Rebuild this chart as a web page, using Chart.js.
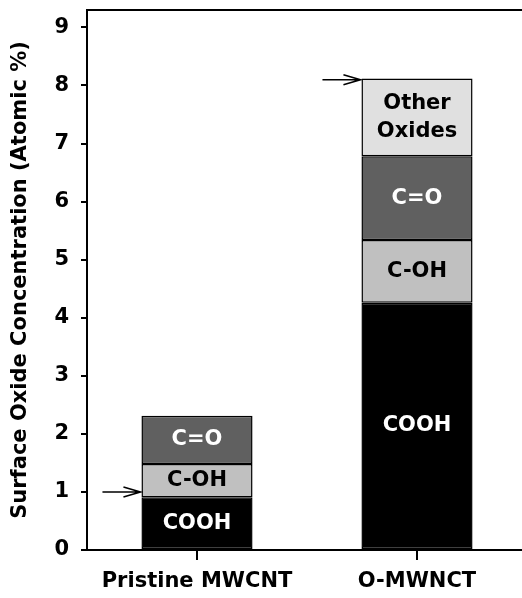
<!DOCTYPE html>
<html>
<head>
<meta charset="utf-8">
<script src="https://cdn.jsdelivr.net/npm/chart.js@4/dist/chart.umd.min.js"></script>
<style>
html,body{margin:0;padding:0;background:#fff;overflow:hidden;}
#wrap{width:522px;height:598px;overflow:hidden;}
canvas{display:block;}
</style>
</head>
<body>
<div id="wrap"><canvas id="c" width="532" height="598" style="width:532px;height:598px"></canvas></div>
<script>
// Data
const categories = ['Pristine MWCNT', 'O-MWNCT'];
const seriesNames = ['COOH', 'C-OH', 'C=O', 'Other Oxides'];
const cooh = [0.91, 4.26];
const coh = [0.57, 1.08];
const cdo = [0.83, 1.44];
const other = [0, 1.34];
const yTicks = [0, 1, 2, 3, 4, 5, 6, 7, 8, 9];
const arrowValues = [1.0, 8.1];
const yTitle = 'Surface Oxide Concentration (Atomic %)';

const FONT = '"DejaVu Sans", Verdana, sans-serif';
const FS = 21;
const fills = ['#000000', '#c0c0c0', '#606060', '#e0e0e0'];
const labelColors = ['#ffffff', '#000000', '#ffffff', '#000000'];
const seriesValues = [cooh, coh, cdo, other];

const datasets = seriesValues.map((vals, i) => ({
  label: seriesNames[i],
  data: vals,
  backgroundColor: fills[i],
  borderColor: '#000000',
  borderWidth: 1.5,
  borderSkipped: false,
  categoryPercentage: 1.0,
  barPercentage: 0.505
}));

const overlay = {
  id: 'overlay',
  afterDatasetsDraw(chart) {
    const ctx = chart.ctx;
    const ca = chart.chartArea;
    const ys = chart.scales.y;
    ctx.save();
    // top frame line
    ctx.strokeStyle = '#000';
    ctx.lineWidth = 2;
    ctx.beginPath();
    ctx.moveTo(ca.left - 1, ca.top);
    ctx.lineTo(ca.right, ca.top);
    ctx.stroke();
    // segment labels
    ctx.font = 'bold ' + FS + 'px ' + FONT;
    ctx.textAlign = 'center';
    ctx.textBaseline = 'middle';
    chart.data.datasets.forEach((ds, di) => {
      const meta = chart.getDatasetMeta(di);
      meta.data.forEach((el, j) => {
        if (!ds.data[j]) return;
        const cy = (el.y + el.base) / 2;
        ctx.fillStyle = labelColors[di];
        const name = seriesNames[di];
        if (name === 'Other Oxides') {
          ctx.fillText('Other', el.x, cy - 14);
          ctx.fillText('Oxides', el.x, cy + 14);
        } else {
          ctx.fillText(name, el.x, cy);
        }
      });
    });
    // arrows
    const meta0 = chart.getDatasetMeta(0);
    ctx.strokeStyle = '#000';
    ctx.lineWidth = 1.6;
    arrowValues.forEach((v, j) => {
      const el = meta0.data[j];
      const tipX = el.x - el.width / 2 - 1;
      const y = ys.getPixelForValue(v);
      ctx.beginPath();
      ctx.moveTo(tipX - 38, y);
      ctx.lineTo(tipX, y);
      ctx.moveTo(tipX - 17, y - 5);
      ctx.lineTo(tipX, y);
      ctx.lineTo(tipX - 17, y + 5);
      ctx.stroke();
    });
    ctx.restore();
  }
};

new Chart(document.getElementById('c'), {
  type: 'bar',
  data: { labels: categories, datasets },
  options: {
    responsive: false,
    animation: false,
    layout: { padding: { left: 0, top: 10, right: 5, bottom: 0 } },
    plugins: { legend: { display: false }, tooltip: { enabled: false } },
    scales: {
      x: {
        stacked: true,
        offset: true,
        grid: { offset: false, drawOnChartArea: false, drawTicks: true, tickLength: 10, color: '#000', lineWidth: 2 },
        border: { display: true, color: '#000', width: 2 },
        ticks: { color: '#000', font: { family: FONT, size: FS, weight: 'bold' }, padding: 9, maxRotation: 0 },
        afterFit(s) { s.height = 48; s.paddingLeft = 0; s.paddingRight = 0; }
      },
      y: {
        stacked: true,
        min: 0,
        max: 9.3,
        afterBuildTicks(s) { s.ticks = yTicks.map(v => ({ value: v })); },
        grid: { drawOnChartArea: false, drawTicks: true, tickLength: 6, color: '#000', lineWidth: 2 },
        border: { display: true, color: '#000', width: 2 },
        ticks: { color: '#000', font: { family: FONT, size: FS, weight: 'bold' }, padding: 12, stepSize: 1 },
        title: { display: true, text: yTitle, color: '#000', font: { family: FONT, size: FS, weight: 'bold' }, padding: { top: 8, bottom: 0 } },
        afterFit(s) { s.width = 87; s.paddingTop = 0; s.paddingBottom = 0; }
      }
    }
  },
  plugins: [overlay]
});
</script>
</body>
</html>
